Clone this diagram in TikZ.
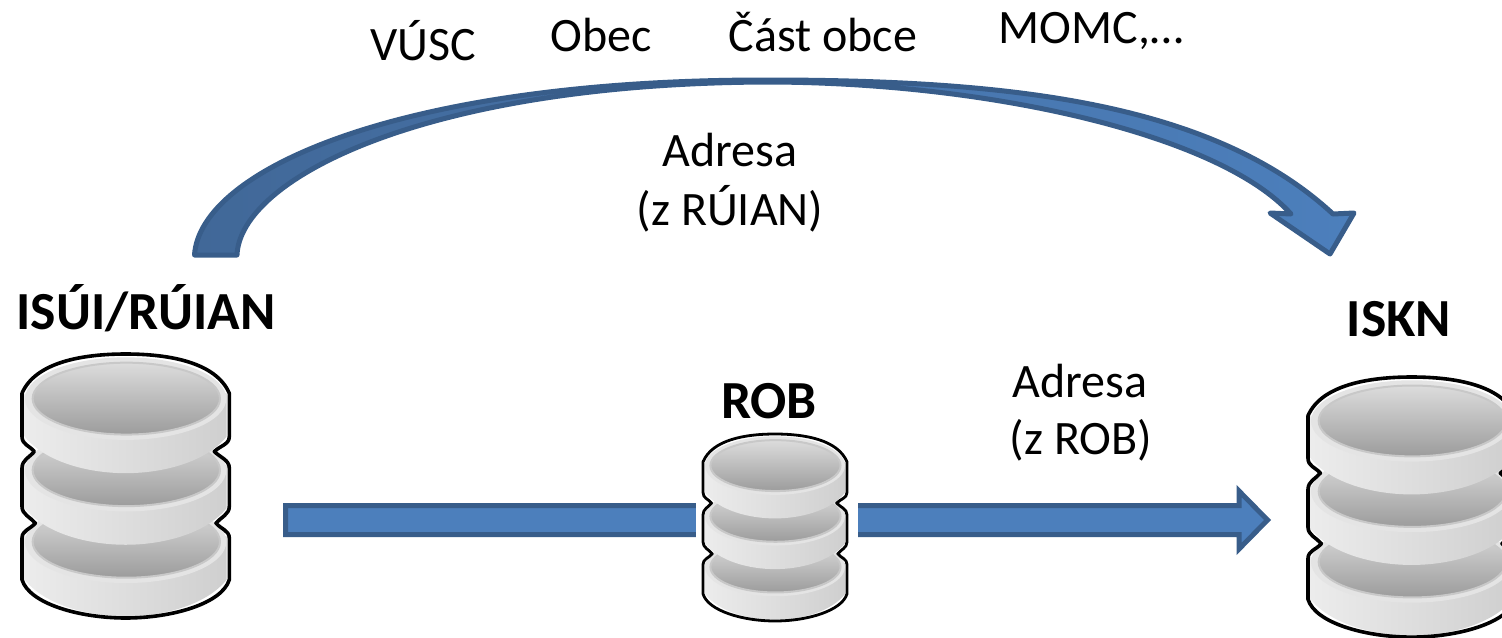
\documentclass[tikz,border=0pt]{standalone}
\usepackage{fontspec}
\setmainfont{Carlito}
\usetikzlibrary{calc}
\definecolor{arrowfill}{HTML}{4C7FBC}
\definecolor{arrowdark}{HTML}{416898}
\definecolor{arrowline}{HTML}{385D8A}
\tikzset{
  label text/.style={font=\fontsize{24}{28}\selectfont,inner sep=0pt,text=black},
  title text/.style={font=\fontsize{26.8}{32}\selectfont\bfseries,inner sep=0pt,text=black},
  blockarrow/.style={draw=arrowline,line width=2.5pt,miter limit=10},
  dbline/.style={draw=black,line join=round},
  band/.style={left color=dbleft,middle color=dbmid,right color=dbright},
  rim/.style={fill=dbrim},
  dish/.style={top color=dishtop,bottom color=dishbot,draw=dishline,line width=1pt},
}
\definecolor{dbleft}{HTML}{ECECEC}
\definecolor{dbmid}{HTML}{F6F6F6}
\definecolor{dbright}{HTML}{CFCFCF}
\definecolor{dbrim}{HTML}{E4E4E4}
\definecolor{dishtop}{HTML}{DCDCDC}
\definecolor{dishbot}{HTML}{9C9C9C}
\definecolor{dishline}{HTML}{C8C8C8}
\def\dboutline{(0,118) .. controls (40,25) and (180,0) .. (311,0) .. controls (442,0) and (582,25) .. (622,118)
  -- (622,248) .. controls (622,272) and (595,275) .. (577,293) .. controls (595,311) and (622,318) .. (622,343)
  -- (622,458) .. controls (622,482) and (597,490) .. (582,508) .. controls (597,526) and (622,530) .. (622,553)
  -- (622,678) .. controls (600,750) and (450,793) .. (311,793) .. controls (172,793) and (22,750) .. (0,678)
  -- (0,553) .. controls (0,530) and (25,526) .. (40,508) .. controls (25,490) and (0,482) .. (0,458)
  -- (0,343) .. controls (0,318) and (22,311) .. (37,293) .. controls (22,275) and (0,272) .. (0,248) -- cycle}
% #1 x, #2 y, #3 xscale, #4 yscale, #5 line width
\newcommand{\dbicon}[5]{%
  \begin{scope}[shift={(#1,#2)},xscale=#3,yscale=#4]
    \begin{scope}
      \clip \dboutline;
      \fill[white] (-5,-5) rectangle (630,800);
      \foreach \d in {430,215,0}{
        \begin{scope}[shift={(0,\d)}]
          \shade[band] (8,118) -- (8,248) .. controls (70,325) and (200,358) .. (311,358)
             .. controls (422,358) and (552,325) .. (614,248) -- (614,118) -- cycle;
          \fill[rim] (311,134) ellipse [x radius=302,y radius=124];
          \shade[dish] (313,134) ellipse [x radius=281,y radius=108];
        \end{scope}
      }
    \end{scope}
    \draw[dbline,line width=#5] \dboutline;
  \end{scope}}
\begin{document}
\begin{tikzpicture}[x=0.5pt,y=-0.5pt]
\useasboundingbox (0,0) rectangle (1502,637);
\clip (0,0) rectangle (1502,637);
\coordinate (lowstart) at (285.5,520);
\coordinate (lowtip) at (1267.5,520);
\coordinate (curvestart) at (194.5,255);
\coordinate (curvetip) at (1330,254);
% lower arrow
\draw[blockarrow,fill=arrowfill]
  ($(lowstart)+(0,-14.5)$) -- ($(lowtip)+(-28.5,-14.5)$) -- ($(lowtip)+(-28.5,-29)$) -- (lowtip)
  -- ($(lowtip)+(-28.5,29)$) -- ($(lowtip)+(-28.5,14.5)$) -- ($(lowstart)+(0,14.5)$) -- cycle;
\fill[white] (696,495) rectangle (858,545);
% curved arrow
\path[draw=arrowline,line width=2.5pt,line join=round,left color=arrowdark,middle color=arrowdark,right color=arrowfill]
  (curvestart) .. controls (200,170) and (400,80) .. (765,80)
  .. controls (1000,80) and (1210,100) .. (1333,214)
  -- (1354,213) -- (curvetip) -- (1270,213) -- (1291,214)
  .. controls (1220,135) and (990,82) .. (765,82)
  .. controls (420,84) and (240,180) .. (237,255) -- cycle;
% databases
\dbicon{22}{354}{0.3333}{0.3329}{1.8pt}
\dbicon{703}{434}{0.2315}{0.2358}{1.4pt}
\dbicon{1308}{377}{0.3333}{0.328}{1.8pt}
% labels
\node[label text] (vusc) at (423,41) {VÚSC};
\node[label text] (obec) at (601,35) {Obec};
\node[label text] (cast) at (823,32) {Část obce};
\node[label text] (momc) at (1091,31) {MOMC,…};
\node[label text] (adr1) at (730,150) {Adresa};
\node[label text] (zru) at (730,209) {(z RÚIAN)};
\node[label text] (adr2) at (1080,381) {Adresa};
\node[label text] (zrob) at (1081,440) {(z ROB)};
\node[title text] (isui) at (146,308) {ISÚI/RÚIAN};
\node[title text] (iskn) at (1399,319) {ISKN};
\node[title text] (rob) at (769,401) {ROB};
\end{tikzpicture}
\end{document}
